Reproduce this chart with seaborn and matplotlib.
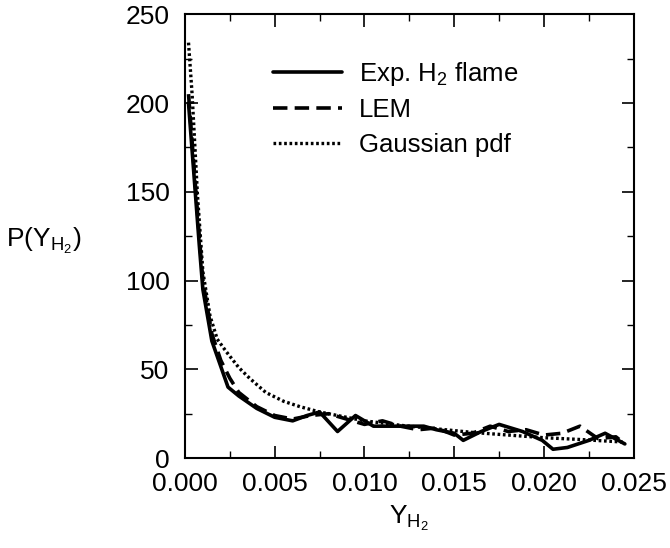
import numpy as np
import pandas as pd
import matplotlib
matplotlib.use('Agg')
import matplotlib.pyplot as plt
import seaborn as sns
from matplotlib.ticker import MultipleLocator

sns.set_style('ticks')
plt.rcParams['font.family'] = ['Liberation Sans', 'DejaVu Sans']
plt.rcParams['mathtext.fontset'] = 'custom'
plt.rcParams['mathtext.rm'] = 'Liberation Sans'
plt.rcParams['mathtext.it'] = 'Liberation Sans'

# Experimental H2 flame pdf
exp_x = [0.0002, 0.0005, 0.0008, 0.0010, 0.0015, 0.0024, 0.0030, 0.0040, 0.0050, 0.0060,
         0.0068, 0.0075, 0.0085, 0.0095, 0.0105, 0.0120, 0.0133, 0.0140, 0.0150, 0.0155,
         0.0165, 0.0175, 0.0188, 0.0199, 0.0205, 0.0213, 0.0225, 0.0234, 0.0245]
exp_y = [200, 160, 120, 95, 66, 40, 35, 28, 23, 21,
         24, 26, 15, 24, 18, 18, 18, 16, 14, 10,
         15, 19, 15, 10, 5, 6, 10, 14, 8]

# LEM prediction
lem_x = [0.0002, 0.0005, 0.0008, 0.0010, 0.0015, 0.0020, 0.0025, 0.0030, 0.0040, 0.0050,
         0.0060, 0.0070, 0.0080, 0.0090, 0.0100, 0.0110, 0.0120, 0.0130, 0.0140, 0.0150,
         0.0160, 0.0170, 0.0180, 0.0190, 0.0200, 0.0210, 0.0220, 0.0230, 0.0240, 0.0245]
lem_y = [205, 165, 125, 100, 70, 55, 45, 37, 29, 24,
         22, 24, 25, 22, 19, 21, 18, 16, 17, 13,
         14, 18, 15, 16, 13, 14, 18, 11, 12, 8]

# Gaussian pdf
gau_x = [0.0002, 0.0004, 0.0007, 0.0010, 0.0014, 0.0018, 0.0023, 0.0030, 0.0036, 0.0045,
         0.0055, 0.0064, 0.0075, 0.0090, 0.0100, 0.0120, 0.0140, 0.0160, 0.0180, 0.0200,
         0.0220, 0.0245]
gau_y = [234, 205, 148, 105, 80, 67, 60, 51, 45, 37,
         32, 29, 26, 23, 21, 18.5, 16.5, 14.5, 13, 11.5,
         10.5, 9]

fig = plt.figure(figsize=(6.7, 5.48), dpi=100)
ax = fig.add_axes([0.276, 0.164, 0.670, 0.810])

sns.lineplot(x=exp_x, y=exp_y, ax=ax, color='black', lw=2.6, linestyle='-',
             label=r'Exp. H$_\mathregular{2}$ flame', sort=False)
sns.lineplot(x=lem_x, y=lem_y, ax=ax, color='black', lw=2.6, linestyle=(0, (4, 2)),
             label='LEM', sort=False)
sns.lineplot(x=gau_x, y=gau_y, ax=ax, color='black', lw=2.4, linestyle=(0, (0.8, 0.8)),
             label='Gaussian pdf', sort=False)

ax.set_xlim(0, 0.025)
ax.set_ylim(0, 250)
ax.xaxis.set_major_locator(MultipleLocator(0.005))
ax.xaxis.set_minor_locator(MultipleLocator(0.0025))
ax.yaxis.set_major_locator(MultipleLocator(50))
ax.yaxis.set_minor_locator(MultipleLocator(25))
ax.xaxis.set_major_formatter(matplotlib.ticker.FormatStrFormatter('%.3f'))

ax.tick_params(which='both', direction='in', top=True, right=True, color='black')
ax.tick_params(which='major', length=9, width=1.2, labelsize=19, labelcolor='black')
ax.tick_params(which='minor', length=5, width=1.0)
ax.tick_params(axis='x', pad=10)
ax.tick_params(axis='y', pad=11)
for s in ax.spines.values():
    s.set_linewidth(1.5)
    s.set_color('black')

ax.set_xlabel(r'Y$_\mathregular{H_2}$', fontsize=19, labelpad=6, color='black')
ax.set_ylabel(r'P(Y$_\mathregular{H_2}$)', fontsize=19, rotation=0, color='black',
              va='center', ha='center')
ax.yaxis.set_label_coords(-0.315, 0.49)

leg = ax.legend(loc='upper left', bbox_to_anchor=(0.196, 0.897), frameon=False,
                fontsize=18.5, handlelength=2.7, handletextpad=0.65, labelspacing=0.4,
                borderpad=0, borderaxespad=0)
for t in leg.get_texts():
    t.set_color('black')

fig.savefig('out.png', dpi=100)
